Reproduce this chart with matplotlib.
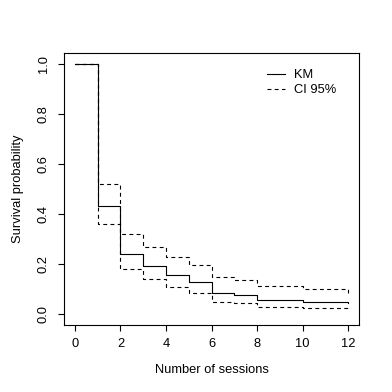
import numpy as np
import matplotlib
matplotlib.use('Agg')
import matplotlib.pyplot as plt

plt.rcParams['font.family'] = ['Liberation Sans', 'DejaVu Sans']

# Kaplan-Meier estimate
times = [0, 1, 2, 3, 4, 5, 6, 7, 8, 10, 12]
km = [1.0, 0.434, 0.24, 0.193, 0.158, 0.13, 0.086, 0.078, 0.058, 0.05, 0.044]
ci_upper = [1.0, 0.52, 0.32, 0.267, 0.229, 0.197, 0.148, 0.139, 0.112, 0.103, 0.087]
ci_lower = [1.0, 0.362, 0.18, 0.142, 0.111, 0.086, 0.05, 0.045, 0.031, 0.025, 0.012]

fs = 9.3
fig = plt.figure(figsize=(3.92, 3.92), dpi=100)
ax = fig.add_axes([64 / 392, 67 / 392, 295 / 392, 272 / 392])

ax.step(times, km, where='post', color='black', linewidth=0.8, label='KM')
ax.step(times, ci_upper, where='post', color='black', linewidth=0.8,
        linestyle=(0, (3.5, 3)), label='CI 95%')
ax.step(times, ci_lower, where='post', color='black', linewidth=0.8,
        linestyle=(0, (3.5, 3)))

ax.set_xlim(-0.48, 12.48)
ax.set_ylim(-0.042, 1.042)
ax.set_xticks(np.arange(0, 13, 2))
ax.set_yticks([0.0, 0.2, 0.4, 0.6, 0.8, 1.0])
ax.set_yticklabels(['0.0', '0.2', '0.4', '0.6', '0.8', '1.0'], rotation=90, va='center')

ax.tick_params(axis='both', length=4.2, width=0.8, labelsize=fs, color='black')
ax.tick_params(axis='x', pad=5)
ax.tick_params(axis='y', pad=6)
for s in ax.spines.values():
    s.set_linewidth(0.8)

ax.set_xlabel('Number of sessions', fontsize=fs, labelpad=10)
ax.set_ylabel('Survival probability', fontsize=fs, labelpad=10)

ax.legend(loc='upper left', bbox_to_anchor=(0.687, 0.94), frameon=False,
          fontsize=fs, handlelength=1.4, handletextpad=0.7, labelspacing=0.22,
          borderpad=0, borderaxespad=0)

fig.savefig('out.png', dpi=100)
